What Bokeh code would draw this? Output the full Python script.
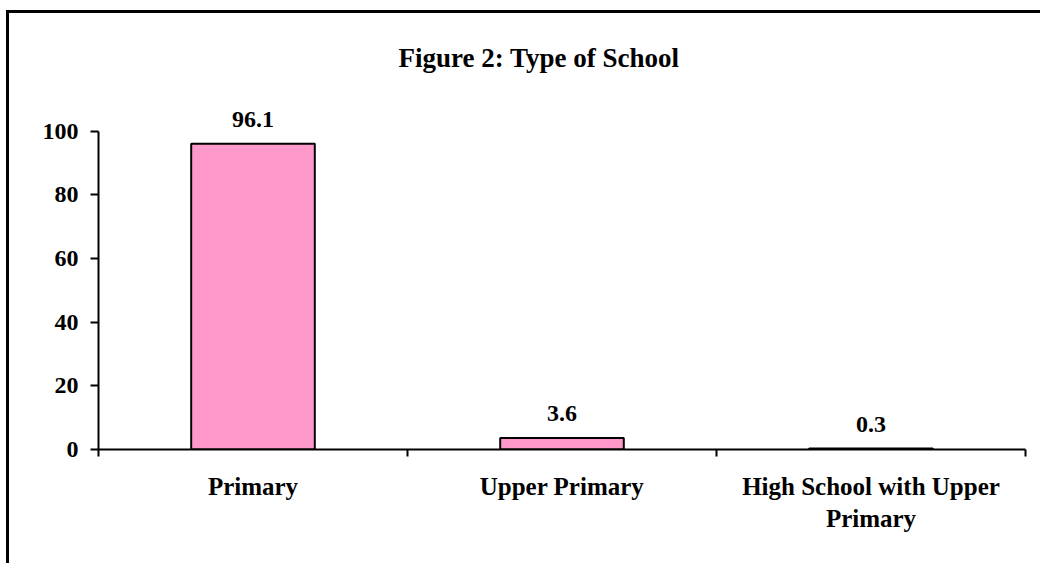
from bokeh.plotting import figure
from bokeh.models import (Range1d, LinearAxis, FixedTicker, ColumnDataSource,
                          LabelSet, Title)
from bokeh.embed import file_html
from bokeh.resources import INLINE

# ---- data ----
categories = ["Primary", "Upper Primary", "High School with Upper\nPrimary"]
values = [96.1, 3.6, 0.3]
value_labels = ["96.1", "3.6", "0.3"]
y_ticks = [0, 20, 40, 60, 80, 100]
title_text = "Figure 2: Type of School"

FONT = "Liberation Serif"
n = len(categories)
centers = [i + 0.5 for i in range(n)]
boundaries = list(range(n + 1))

src = ColumnDataSource(dict(x=centers, top=values, lab=value_labels))

p = figure(width=1031, height=550, output_backend="svg", toolbar_location=None,
           x_range=Range1d(0, n), y_range=Range1d(0, 110),
           x_axis_type=None, y_axis_type=None,
           frame_width=927, frame_height=350,
           min_border_left=89, min_border_right=15, min_border_top=86,
           min_border_bottom=114)
p.styles = {"border-left": "3px solid black", "border-top": "3px solid black",
            "margin-left": "6px", "margin-top": "10px"}
p.outline_line_color = None
p.grid.visible = False
p.background_fill_color = "white"
p.border_fill_color = "white"

# title
t = Title(text=title_text, align="left", text_font=FONT, text_font_style="bold",
          text_font_size="27px", text_color="black", offset=300, standoff=54)
p.add_layout(t, "above")

# y axis (line only up to 100)
ya = LinearAxis(ticker=FixedTicker(ticks=y_ticks, minor_ticks=[]), bounds=(0, 100))
ya.axis_line_width = 2
ya.axis_line_color = "black"
ya.major_tick_out = 8
ya.major_tick_in = 0
ya.major_tick_line_width = 2
ya.major_tick_line_color = "black"
ya.minor_tick_out = 0
ya.minor_tick_in = 0
ya.major_label_standoff = 12
ya.major_label_text_font = FONT
ya.major_label_text_font_style = "bold"
ya.major_label_text_font_size = "24px"
ya.major_label_text_color = "black"
p.add_layout(ya, "left")

# x axis: labels at category centres, tick marks (minor) at boundaries
xa = LinearAxis(ticker=FixedTicker(ticks=centers, minor_ticks=boundaries))
xa.axis_line_width = 2
xa.axis_line_color = "black"
xa.major_tick_out = 0
xa.major_tick_in = 0
xa.major_tick_line_color = None
xa.minor_tick_out = 7
xa.minor_tick_in = 0
xa.minor_tick_line_width = 2
xa.minor_tick_line_color = "black"
xa.major_label_overrides = {c: lab for c, lab in zip(centers, categories)}
xa.major_label_standoff = 16
xa.major_label_text_font = FONT
xa.major_label_text_font_style = "bold"
xa.major_label_text_font_size = "25px"
xa.major_label_text_color = "black"
xa.major_label_text_align = "center"
p.add_layout(xa, "below")

# bars
p.vbar(x="x", top="top", width=0.4, bottom=0, source=src,
       fill_color="#FF99CC", line_color="black", line_width=2)

labels = LabelSet(x="x", y="top", text="lab", source=src, y_offset=17,
                  text_align="center", text_baseline="alphabetic",
                  text_font=FONT, text_font_style="bold", text_font_size="24px",
                  text_color="black")
p.add_layout(labels)

open("out.html", "w").write(file_html(p, INLINE))
